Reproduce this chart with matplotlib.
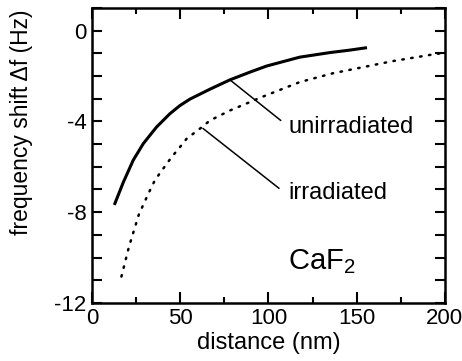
import numpy as np
import matplotlib.pyplot as plt
from matplotlib.ticker import MultipleLocator
from matplotlib.transforms import ScaledTranslation

plt.rcParams['font.family'] = ['Liberation Sans', 'DejaVu Sans']

# unirradiated (solid)
d_un = [13.0, 17.8, 23.4, 29.1, 36.6, 44.2, 49.9, 55.5, 66.9, 78.2, 89.5, 99, 117.7, 134.6, 146, 155]
f_un = [-7.62, -6.68, -5.71, -4.98, -4.25, -3.66, -3.30, -3.02, -2.58, -2.17, -1.83, -1.56, -1.17, -0.97, -0.86, -0.76]

# irradiated (dotted)
d_ir = [16.7, 21, 26.6, 32, 35.7, 40.4, 45.2, 49.9, 53.7, 61.2, 66.9, 78.2, 89.5, 95.2, 117.7, 136.5, 146, 170, 194.7, 200]
f_ir = [-10.84, -9.52, -8.1, -7.18, -6.59, -6.08, -5.57, -5.13, -4.76, -4.32, -3.96, -3.52, -3.15, -2.96, -2.27, -1.88, -1.73, -1.35, -1.03, -0.98]

fig = plt.figure(figsize=(4.62, 3.61), dpi=100)
ax = fig.add_axes([0.199, 0.161, 0.764, 0.817])

ax.plot(d_un, f_un, color='black', lw=2.2, solid_joinstyle='round')
ax.plot(d_ir, f_ir, color='black', lw=1.8, linestyle=(0, (0.6, 3.0)), dash_capstyle='round')

ax.set_xlim(0, 200)
ax.set_ylim(-12, 1)
ax.xaxis.set_major_locator(MultipleLocator(50))
ax.xaxis.set_minor_locator(MultipleLocator(25))
ax.yaxis.set_major_locator(MultipleLocator(4))
ax.yaxis.set_minor_locator(MultipleLocator(1))
ax.tick_params(which='both', direction='in', top=True, right=True, width=1.5, labelsize=16, pad=4)
ax.tick_params(axis='x', which='major', length=8)
ax.tick_params(axis='x', which='minor', length=4.5)
ax.tick_params(axis='y', which='both', length=7)
ax.set_yticks([-12, -8, -4, 0])
ax.set_yticklabels(['-12', '-8', '-4', '0'])
for s in ax.spines.values():
    s.set_linewidth(1.8)

# nudge the last x tick label so it stays inside the figure
fig.canvas.draw()
last = ax.get_xticklabels()[-1]
last.set_transform(last.get_transform() + ScaledTranslation(-4 / 72, 0, fig.dpi_scale_trans))

ax.set_xlabel('distance (nm)', fontsize=17, va='top')
ax.xaxis.set_label_coords(0.5, -0.10)
ax.set_ylabel('frequency shift \u0394f (Hz)', fontsize=16.5)
ax.yaxis.set_label_coords(-0.168, 0.614)

# leader lines and labels
ax.annotate('', xy=(78.2, -2.17), xytext=(107, -3.96),
            arrowprops=dict(arrowstyle='-', color='black', lw=1.1, shrinkA=0, shrinkB=0))
ax.text(111.5, -4.25, 'unirradiated', fontsize=17, va='center', ha='left')
ax.annotate('', xy=(62.9, -4.31), xytext=(106, -6.95),
            arrowprops=dict(arrowstyle='-', color='black', lw=1.1, shrinkA=0, shrinkB=0))
ax.text(111.5, -7.15, 'irradiated', fontsize=17, va='center', ha='left')
ax.text(111, -10.2, 'CaF$_\\mathregular{2}$', fontsize=21, va='center', ha='left')

fig.savefig('out.png', dpi=100)
